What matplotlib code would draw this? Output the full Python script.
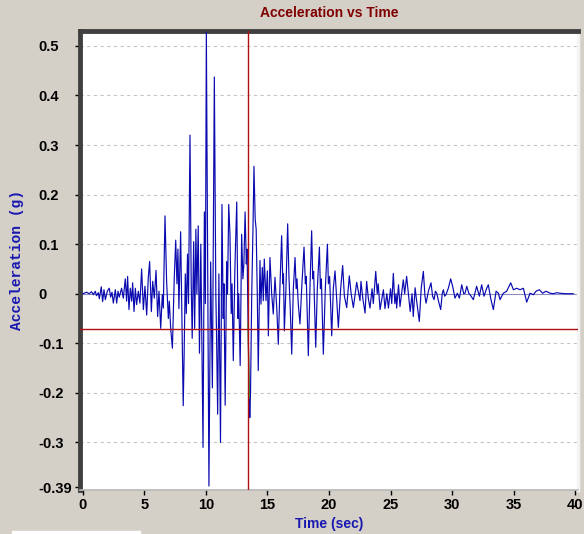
import numpy as np
import matplotlib.pyplot as plt
from matplotlib.patches import Rectangle

# Accelerogram samples (time in s, acceleration in g), split by record phase
t_pre = [0.0, 0.3, 0.5, 0.7, 0.85, 1.0, 1.1, 1.25, 1.33, 1.49, 1.6, 1.71, 1.82, 1.98,
         2.14, 2.25, 2.36, 2.47, 2.63, 2.74, 2.85, 2.95, 3.14, 3.28, 3.44, 3.55, 3.63,
         3.74, 3.85, 3.96, 4.04, 4.15, 4.26, 4.36, 4.5, 4.63, 4.77, 4.91, 5.04, 5.18,
         5.31, 5.42, 5.56, 5.67, 5.8, 5.94, 6.07, 6.18, 6.32, 6.45, 6.53]
a_pre = [0.0, 0.003, 0.0, 0.004, -0.002, 0.005, -0.004, 0.002, -0.01, 0.014, -0.016,
         0.008, -0.012, 0.005, 0.011, -0.007, 0.003, -0.019, 0.008, -0.019, 0.005,
         -0.007, 0.011, -0.009, 0.03, -0.015, 0.035, -0.032, 0.011, -0.015, 0.022,
         -0.036, 0.011, -0.022, 0.005, -0.019, 0.05, -0.032, 0.015, -0.043, 0.032,
         0.065, -0.036, 0.025, -0.009, 0.047, -0.046, 0.005, -0.07, -0.002, -0.029]

t_strong = [6.67, 6.8, 6.94, 7.02, 7.13, 7.27, 7.42, 7.54, 7.64, 7.72, 7.8, 7.94, 8.03,
            8.15, 8.22, 8.32, 8.4, 8.5, 8.58, 8.7, 8.8, 8.88, 9.0, 9.08, 9.18, 9.26,
            9.37, 9.47, 9.58, 9.76, 9.87, 9.95, 10.03, 10.24, 10.31, 10.38, 10.52,
            10.68, 10.8, 10.85, 10.95, 11.05, 11.18, 11.3, 11.4, 11.46, 11.56, 11.68,
            11.75, 11.85, 11.95, 12.05, 12.12, 12.22, 12.35, 12.5, 12.6, 12.66, 12.78,
            12.9, 13.0, 13.08, 13.18, 13.28, 13.34, 13.42, 13.52, 13.56, 13.62, 13.72,
            13.82, 13.9, 14.0, 14.08, 14.17]
a_strong = [0.157, 0.025, -0.05, -0.015, -0.07, -0.11, 0.03, 0.108, 0.02, 0.09, -0.03,
            0.125, -0.02, -0.226, -0.13, 0.04, -0.04, 0.08, -0.02, 0.32, 0.02, -0.09,
            0.105, -0.07, 0.13, 0.0, 0.137, -0.12, 0.1, -0.31, 0.165, -0.02, 0.527,
            -0.388, -0.17, 0.064, -0.19, 0.437, 0.0, -0.07, -0.243, 0.04, -0.3, 0.18,
            -0.05, 0.02, -0.225, 0.065, 0.0, 0.18, 0.12, -0.04, 0.02, -0.135, 0.05,
            0.185, -0.05, 0.0, -0.145, 0.12, 0.03, 0.06, 0.165, 0.06, 0.09, -0.06,
            -0.21, -0.25, -0.2, 0.0, 0.13, 0.257, 0.15, 0.13, 0.0]

t_late = [14.25, 14.39, 14.47, 14.58, 14.66, 14.74, 14.88, 14.99, 15.07, 15.2, 15.34,
          15.47, 15.61, 15.75, 15.88, 16.02, 16.15, 16.25, 16.3, 16.37, 16.5, 16.64,
          16.75, 16.85, 16.97, 17.1, 17.24, 17.33, 17.4, 17.5, 17.64, 17.8, 17.97,
          18.08, 18.15, 18.32, 18.45, 18.59, 18.68, 18.75, 18.92, 19.05, 19.22, 19.3,
          19.38, 19.54, 19.7, 19.87, 19.95, 20.05, 20.22, 20.35, 20.49, 20.62, 20.76,
          20.95, 21.11, 21.25, 21.44, 21.65, 21.8, 21.98]
a_late = [-0.155, 0.067, -0.021, 0.053, -0.014, 0.07, -0.014, 0.046, -0.085, 0.073,
          0.0, -0.041, 0.033, -0.028, -0.102, 0.02, 0.117, 0.02, 0.04, -0.075, 0.01,
          0.141, 0.03, -0.03, -0.122, 0.01, 0.073, 0.01, 0.03, -0.02, -0.061, 0.02,
          0.094, 0.02, 0.035, -0.125, 0.01, 0.127, 0.03, 0.045, -0.108, 0.01, 0.094,
          0.01, 0.03, -0.122, 0.01, 0.1, 0.02, 0.035, -0.085, 0.01, 0.046, -0.01,
          -0.068, 0.01, 0.057, -0.005, -0.028, 0.036, 0.0, -0.028]

t_coda = [22.25, 22.52, 22.6, 22.75, 22.93, 23.06, 23.2, 23.33, 23.5, 23.6, 23.8, 23.92,
          24.0, 24.15, 24.3, 24.42, 24.55, 24.7, 24.83, 25.0, 25.1, 25.23, 25.35, 25.45,
          25.5, 25.65, 25.77, 25.9, 26.04, 26.15, 26.31, 26.45, 26.6, 26.75, 26.85,
          27.0, 27.1, 27.34, 27.5, 27.67, 27.8, 27.89, 28.08, 28.29, 28.42, 28.54,
          28.65, 28.76, 28.9, 29.08, 29.2, 29.3, 29.4, 29.51, 29.7, 29.89, 30.05,
          30.24, 30.43, 30.6, 30.79, 30.95, 31.06, 31.2, 31.36, 31.55, 31.73, 32.0,
          32.22, 32.41, 32.6, 32.82, 32.95, 33.14, 33.36, 33.58, 33.77, 33.9, 34.17,
          34.44, 34.77, 34.99, 35.26, 35.53, 35.8, 36.07, 36.34, 36.61, 36.83, 37.1,
          37.37, 37.64, 37.97, 38.24, 38.5, 38.78, 39.2, 39.85]
a_coda = [0.023, -0.014, 0.025, -0.01, -0.039, 0.025, -0.01, -0.029, 0.01, -0.02, 0.045,
          0.0, 0.02, -0.032, -0.01, 0.008, -0.03, 0.0, -0.029, 0.01, -0.02, 0.041,
          -0.02, 0.0, -0.029, 0.018, -0.026, 0.0, 0.028, 0.0, 0.035, 0.0, -0.036, 0.0,
          -0.046, 0.012, -0.01, -0.056, 0.012, 0.045, -0.005, -0.019, 0.005, 0.022,
          -0.005, -0.012, 0.005, 0.001, -0.015, -0.032, 0.0, 0.008, -0.005, -0.002,
          0.011, 0.03, 0.015, -0.009, 0.001, -0.009, 0.018, 0.0, 0.001, 0.015, 0.001,
          -0.005, -0.012, 0.015, -0.005, 0.018, -0.005, 0.011, 0.018, -0.009, -0.032,
          0.005, 0.001, -0.012, 0.001, 0.005, 0.022, 0.008, 0.011, 0.008, 0.011,
          -0.017, 0.001, -0.002, 0.005, 0.008, 0.001, 0.005, 0.001, 0.0, 0.002, 0.001,
          0.0, 0.0]

# cursor position
cursor_t = 13.41
cursor_a = -0.072

y_ticks = [0.5, 0.4, 0.3, 0.2, 0.1, 0, -0.1, -0.2, -0.3, -0.39]
y_labels = ['0.5', '0.4', '0.3', '0.2', '0.1', '0', '-0.1', '-0.2', '-0.3', '-0.39']
x_ticks = [0, 5, 10, 15, 20, 25, 30, 35, 40]

t = np.array(t_pre + t_strong + t_late + t_coda)
acc = np.array(a_pre + a_strong + a_late + a_coda)

fig = plt.figure(figsize=(5.84, 5.34), dpi=100, facecolor='#D4D0C8')
ax = fig.add_axes([80 / 584, 1 - 490 / 534, 498 / 584, 459 / 534])
ax.set_facecolor('white')

ax.set_xlim(-0.24, 40.24)
ax.set_ylim(-0.396, 0.53)

for yv in y_ticks[:-1]:
    if yv != 0:
        ax.axhline(yv, color='#C4C4C4', lw=0.8, ls=(0, (3, 3)), zorder=1)
ax.axhline(0, color='#8C8CC4', lw=0.8, zorder=1)

ax.plot(t, acc, color='#0A0AB0', lw=0.85, zorder=3)

# highlighted sample at the cursor
i0 = int(np.searchsorted(t, 13.42))
ax.plot(t[i0:i0 + 2], acc[i0:i0 + 2], color='#22B422', lw=0.9, zorder=4)

ax.axvline(cursor_t, color='#B01010', lw=1.0, zorder=5)
ax.axhline(cursor_a, color='#B01010', lw=1.0, zorder=5)

ax.set_xticks(x_ticks)
ax.set_yticks(y_ticks)
ax.set_yticklabels(y_labels)
for lab in ax.get_xticklabels() + ax.get_yticklabels():
    lab.set_fontfamily('Liberation Sans')
    lab.set_fontweight('bold')
    lab.set_fontsize(10.5)
for lab in ax.get_yticklabels():
    lab.set_horizontalalignment('left')
ax.tick_params(axis='both', direction='out', length=3.6, width=1, color='black')
ax.tick_params(axis='y', pad=26.5)
ax.tick_params(axis='x', pad=2)

ax.spines['top'].set_color('#404040')
ax.spines['top'].set_linewidth(3.5)
ax.spines['left'].set_color('#404040')
ax.spines['left'].set_linewidth(3.5)
ax.spines['right'].set_color('#F4F4F4')
ax.spines['right'].set_linewidth(2.5)
ax.spines['bottom'].set_color('#B8B8B8')
ax.spines['bottom'].set_linewidth(1.2)

ax.set_title('Acceleration vs Time', color='#800000', fontsize=10, weight='bold',
             family='Liberation Sans', pad=10)
ax.set_xlabel('Time (sec)', color='#1818B0', fontsize=10, weight='bold',
              family='Liberation Sans', labelpad=4)
ax.set_ylabel('Acceleration (g)', color='#1818B0', fontsize=10.5, weight='bold',
              family='Liberation Mono')
ax.yaxis.set_label_coords(-0.113, 0.5)

fig.patches.append(Rectangle((12 / 584, 0), 128 / 584, 3 / 534, color='white',
                             transform=fig.transFigure, figure=fig))

fig.savefig('out.png', dpi=100, facecolor=fig.get_facecolor())
